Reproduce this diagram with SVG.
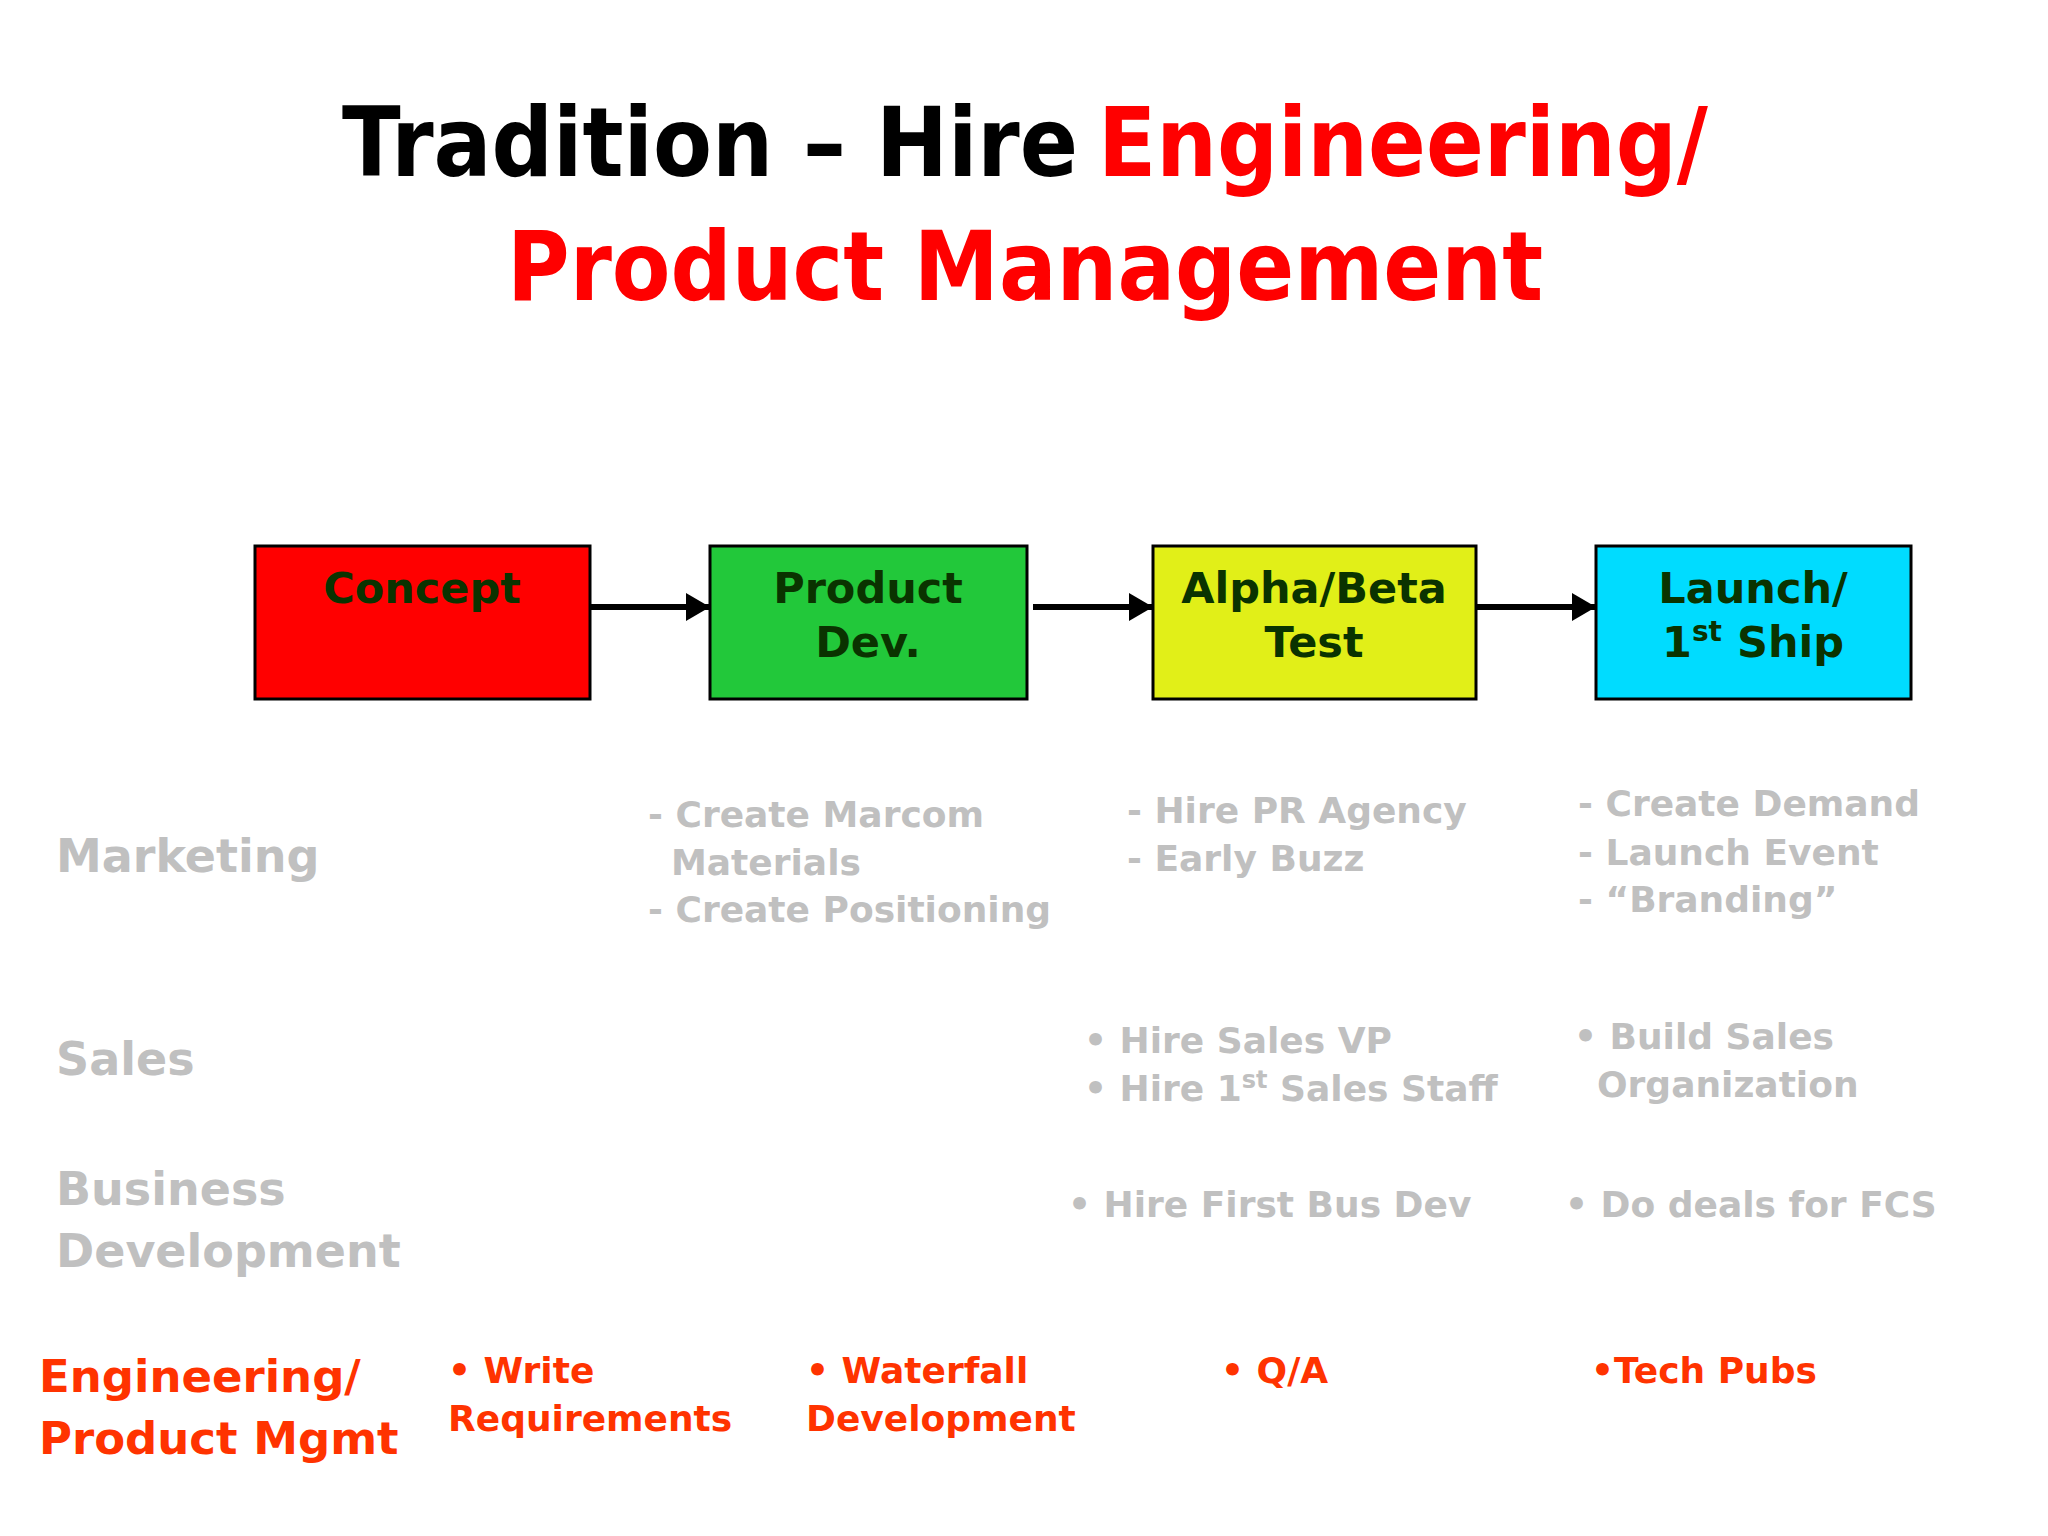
<svg xmlns="http://www.w3.org/2000/svg" width="2048" height="1536" viewBox="0 0 2048 1536">
<style>
text{font-family:"DejaVu Sans",Verdana,sans-serif;font-weight:bold}
.t{font-size:96px}
.b{font-size:43px;fill:#0a3300;text-anchor:middle}
.h{font-size:46px;fill:#c0c0c0}
.g{font-size:36px;fill:#c0c0c0}
.e{font-size:45px;fill:#ff3300}
.o{font-size:36px;fill:#ff3300}
.box{stroke:#000;stroke-width:3}
</style>
<defs>
<marker id="ah" viewBox="0 0 10 10" refX="10" refY="5" markerWidth="24" markerHeight="28" markerUnits="userSpaceOnUse" orient="auto" preserveAspectRatio="none"><path d="M0,0L10,5L0,10z"/></marker></defs>
<rect width="2048" height="1536" fill="#fff"/>
<g id="title">
<text class="t" x="342" y="176" fill="#000" textLength="736" lengthAdjust="spacingAndGlyphs">Tradition – Hire</text>
<text class="t" x="1098" y="176" fill="#ff0000" textLength="610" lengthAdjust="spacingAndGlyphs">Engineering/</text>
<text class="t" x="507" y="300" fill="#ff0000" textLength="1036" lengthAdjust="spacingAndGlyphs">Product Management</text>
</g>
<g id="concept"><rect class="box" x="255" y="546" width="335" height="153" fill="#ff0000"/><text class="b" x="422" y="603">Concept</text></g>
<g id="productdev"><rect class="box" x="710" y="546" width="317" height="153" fill="#22c83a"/><text class="b" x="868" y="603">Product</text><text class="b" x="868" y="657">Dev.</text></g>
<g id="alphabeta"><rect class="box" x="1153" y="546" width="323" height="153" fill="#e1ef18"/><text class="b" x="1314" y="603">Alpha/Beta</text><text class="b" x="1314" y="657">Test</text></g>
<g id="launch"><rect class="box" x="1596" y="546" width="315" height="153" fill="#00dcff"/><text class="b" x="1753" y="603">Launch/</text><text class="b" x="1753" y="657">1<tspan font-size="28" dy="-16">st</tspan><tspan dy="16"> Ship</tspan></text></g>
<g id="connectors" stroke="#000" stroke-width="6">
<line x1="590" y1="607" x2="710" y2="607" marker-end="url(#ah)"/>
<line x1="1033" y1="607" x2="1153" y2="607" marker-end="url(#ah)"/>
<line x1="1476" y1="607" x2="1596" y2="607" marker-end="url(#ah)"/>
</g>
<g id="rows">
<text class="h" x="56" y="872">Marketing</text>
<text class="h" x="56" y="1075">Sales</text>
<text class="h" x="56" y="1205">Business</text>
<text class="h" x="56" y="1267">Development</text>
<text class="e" x="39" y="1392">Engineering/</text>
<text class="e" x="39" y="1454">Product Mgmt</text>
</g>
<g id="items">
<text class="g" x="648" y="827">- Create Marcom</text>
<text class="g" x="671" y="875">Materials</text>
<text class="g" x="648" y="922">- Create Positioning</text>
<text class="g" x="1127" y="823">- Hire PR Agency</text>
<text class="g" x="1127" y="871">- Early Buzz</text>
<text class="g" x="1578" y="816">- Create Demand</text>
<text class="g" x="1578" y="865">- Launch Event</text>
<text class="g" x="1578" y="912">- “Branding”</text>
<text class="g" x="1084" y="1053">• Hire Sales VP</text>
<text class="g" x="1084" y="1101">• Hire 1<tspan font-size="24" dy="-13">st</tspan><tspan dy="13">  Sales Staff</tspan></text>
<text class="g" x="1574" y="1049">• Build Sales</text>
<text class="g" x="1597" y="1097">Organization</text>
<text class="g" x="1068" y="1217">• Hire First Bus Dev</text>
<text class="g" x="1565" y="1217">• Do deals for FCS</text>
<text class="o" x="448" y="1383">• Write</text>
<text class="o" x="448" y="1431">Requirements</text>
<text class="o" x="806" y="1383">• Waterfall</text>
<text class="o" x="806" y="1431">Development</text>
<text class="o" x="1221" y="1383">• Q/A</text>
<text class="o" x="1591" y="1383">•Tech Pubs</text>
</g>
</svg>
